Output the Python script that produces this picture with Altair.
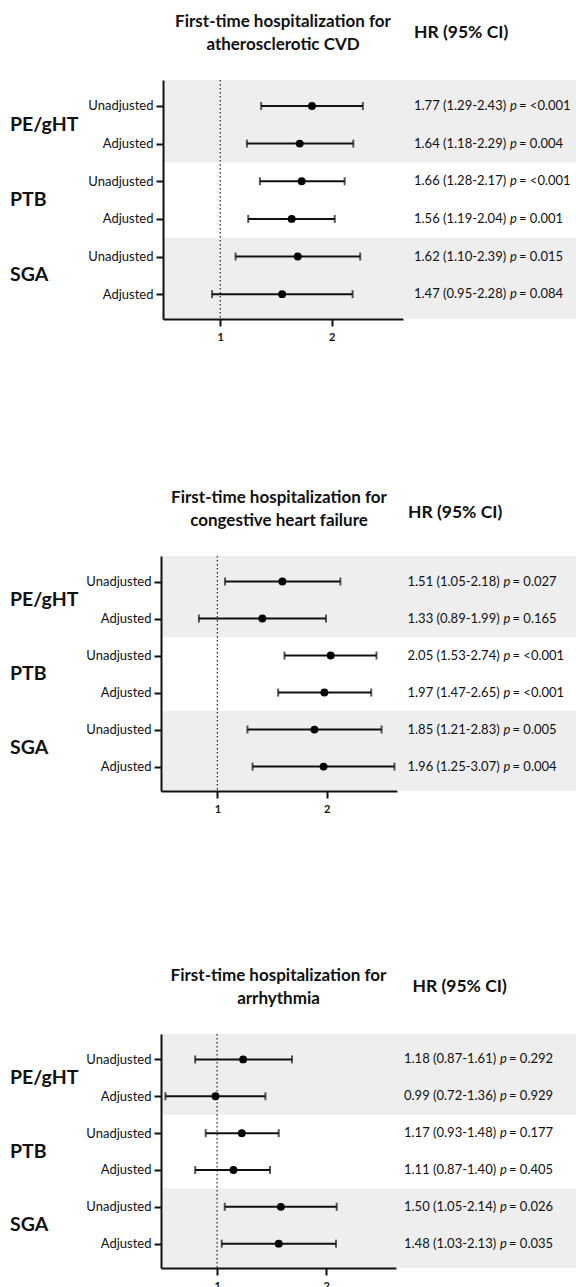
import altair as alt
import pandas as pd
import json

FONT = "Lato"
INK = "#111111"
SHADE = "#eeeeee"

# ---------------- data ----------------
groups = ["PE/gHT", "PE/gHT", "PTB", "PTB", "SGA", "SGA"]
models = ["Unadjusted", "Adjusted", "Unadjusted", "Adjusted", "Unadjusted", "Adjusted"]
shaded_groups = ["PE/gHT", "SGA"]

title_cvd = ["First-time hospitalization for", "atherosclerotic CVD"]
hr_cvd = [1.77, 1.64, 1.66, 1.56, 1.62, 1.47]
lo_cvd = [1.29, 1.18, 1.28, 1.19, 1.10, 0.95]
hi_cvd = [2.43, 2.29, 2.17, 2.04, 2.39, 2.28]
p_cvd = ["<0.001", "0.004", "<0.001", "0.001", "0.015", "0.084"]

title_chf = ["First-time hospitalization for", "congestive heart failure"]
hr_chf = [1.51, 1.33, 2.05, 1.97, 1.85, 1.96]
lo_chf = [1.05, 0.89, 1.53, 1.47, 1.21, 1.25]
hi_chf = [2.18, 1.99, 2.74, 2.65, 2.83, 3.07]
p_chf = ["0.027", "0.165", "<0.001", "<0.001", "0.005", "0.004"]

title_arr = ["First-time hospitalization for", "arrhythmia"]
hr_arr = [1.18, 0.99, 1.17, 1.11, 1.50, 1.48]
lo_arr = [0.87, 0.72, 0.93, 0.87, 1.05, 1.03]
hi_arr = [1.61, 1.36, 1.48, 1.40, 2.14, 2.13]
p_arr = ["0.292", "0.929", "0.177", "0.405", "0.026", "0.035"]

x_ticks = [1, 2]
x_domain = [0.7, 3.12]
ref_line = [1.0]
hr_header = "HR (95% CI)"

Y_DOMAIN = [-0.69, 5.66]


def panel(title_lines, hr, lo, hi, pv, left_w, plot_w, plot_h, text_w, text_x,
          title_offset, hr_offset, hr_dx):
    rows = list(range(len(hr)))
    df = pd.DataFrame({
        "row": rows, "group": groups, "model": models,
        "hr": hr, "lo": lo, "hi": hi,
        "prefix": [f"{h:.2f} ({l:.2f}-{u:.2f})" for h, l, u in zip(hr, lo, hi)],
        "pchar": ["p"] * len(hr),
        "suffix": ["= " + p for p in pv],
    })
    # group bands
    gnames, gpos, b0, b1 = [], [], [], []
    for g in dict.fromkeys(groups):
        rr = [r for r, gg in zip(rows, groups) if gg == g]
        gnames.append(g)
        gpos.append(sum(rr) / len(rr))
        if g in shaded_groups:
            b0.append(Y_DOMAIN[0] if min(rr) == 0 else min(rr) - 0.5)
            b1.append(Y_DOMAIN[1] if max(rr) == len(rows) - 1 else max(rr) + 0.5)
    gdf = pd.DataFrame({"group": gnames, "pos": gpos})
    bands = pd.DataFrame({"y0": b0, "y1": b1})
    refdf = pd.DataFrame({"ref": ref_line})

    y_scale = alt.Scale(domain=Y_DOMAIN, reverse=True, nice=False, zero=False)
    x_scale = alt.Scale(type="log", domain=x_domain, nice=False)
    y_axis = alt.Axis(
        values=rows, title=None, grid=False, zindex=1,
        labelExpr=f"{json.dumps(models)}[datum.value]",
        labelFont=FONT, labelFontSize=13, labelColor=INK, labelPadding=3,
        tickSize=7, tickWidth=2, tickColor=INK,
        domainWidth=2, domainColor=INK,
    )
    x_axis = alt.Axis(
        values=x_ticks, title=None, grid=False, format="d", zindex=1,
        labelFont=FONT, labelFontSize=11, labelFontWeight="bold", labelColor=INK,
        labelPadding=5, tickSize=7, tickWidth=2, tickColor=INK,
        domainWidth=2, domainColor=INK, labelFlush=False,
    )

    # group label column
    glabels = alt.Chart(gdf).mark_text(
        align="left", baseline="middle", font=FONT, fontSize=19.5, fontWeight="bold", color=INK
    ).encode(
        x=alt.value(10),
        y=alt.Y("pos:Q", scale=y_scale, axis=None),
        text="group:N",
    ).properties(width=left_w, height=plot_h)

    # forest plot
    shade = alt.Chart(bands).mark_rect(color=SHADE).encode(
        x=alt.value(0), x2=alt.value("width"),
        y=alt.Y("y0:Q", scale=y_scale, axis=y_axis), y2="y1:Q",
    )
    ref = alt.Chart(refdf).mark_rule(color="#333333", strokeWidth=1.3, strokeDash=[1.5, 2.5]).encode(
        x=alt.X("ref:Q", scale=x_scale, axis=x_axis),
        y=alt.value(0), y2=alt.value("height"),
    )
    base = alt.Chart(df)
    ci = base.mark_rule(color=INK, strokeWidth=2).encode(
        x=alt.X("lo:Q", scale=x_scale, axis=x_axis), x2="hi:Q",
        y=alt.Y("row:Q", scale=y_scale, axis=y_axis),
    )
    cap_lo = base.mark_tick(color=INK, orient="vertical", size=8, thickness=2).encode(
        x=alt.X("lo:Q", scale=x_scale, axis=x_axis),
        y=alt.Y("row:Q", scale=y_scale, axis=y_axis),
    )
    cap_hi = base.mark_tick(color=INK, orient="vertical", size=8, thickness=2).encode(
        x=alt.X("hi:Q", scale=x_scale, axis=x_axis),
        y=alt.Y("row:Q", scale=y_scale, axis=y_axis),
    )
    pts = base.mark_circle(color="black", size=62, opacity=1).encode(
        x=alt.X("hr:Q", scale=x_scale, axis=x_axis),
        y=alt.Y("row:Q", scale=y_scale, axis=y_axis),
    )
    forest = alt.layer(shade, ref, ci, cap_lo, cap_hi, pts).properties(
        width=plot_w, height=plot_h,
        title=alt.TitleParams(
            text=title_lines, font=FONT, fontSize=17, fontWeight="bold", color=INK,
            anchor="middle", frame="group", offset=title_offset, lineHeight=23,
        ),
    )

    # HR text column
    tshade = alt.Chart(bands).mark_rect(color=SHADE).encode(
        x=alt.value(0), x2=alt.value("width"),
        y=alt.Y("y0:Q", scale=y_scale, axis=None), y2="y1:Q",
    )
    tbase = alt.Chart(df)
    t1 = tbase.mark_text(align="left", baseline="middle", font=FONT, fontSize=13, color=INK).encode(
        x=alt.value(text_x), y=alt.Y("row:Q", scale=y_scale, axis=None), text="prefix:N")
    t2 = tbase.mark_text(align="left", baseline="middle", font=FONT, fontSize=13, fontStyle="italic", color=INK).encode(
        x=alt.value(text_x + 96), y=alt.Y("row:Q", scale=y_scale, axis=None), text="pchar:N")
    t3 = tbase.mark_text(align="left", baseline="middle", font=FONT, fontSize=13, color=INK).encode(
        x=alt.value(text_x + 105), y=alt.Y("row:Q", scale=y_scale, axis=None), text="suffix:N")
    tcol = alt.layer(tshade, t1, t2, t3).properties(
        width=text_w, height=plot_h,
        title=alt.TitleParams(
            text=hr_header, font=FONT, fontSize=17.5, fontWeight="bold", color=INK,
            anchor="start", frame="group", offset=hr_offset, dx=hr_dx,
        ),
    )
    return alt.hconcat(glabels, forest, tcol, spacing=0, bounds="flush")


p1 = panel(title_cvd, hr_cvd, lo_cvd, hi_cvd, p_cvd, 163, 240, 239, 173, 11, 25, 39, 11)
p2 = panel(title_chf, hr_chf, lo_chf, hi_chf, p_chf, 161, 236, 235, 179, 10.5, 25, 34.5, 11)
p3 = panel(title_arr, hr_arr, lo_arr, hi_arr, p_arr, 161, 235, 234, 180, 8, 25, 39, 16.5)

chart = alt.vconcat(
    alt.vconcat(p1, p2, spacing=147),
    p3, spacing=153,
).properties(
    padding={"left": 0, "top": 13, "right": 0, "bottom": 0},
    background="white",
).configure_view(stroke=None).configure_concat(spacing=0)

chart.save("out.html", embed_options={"renderer": "svg", "actions": False})
